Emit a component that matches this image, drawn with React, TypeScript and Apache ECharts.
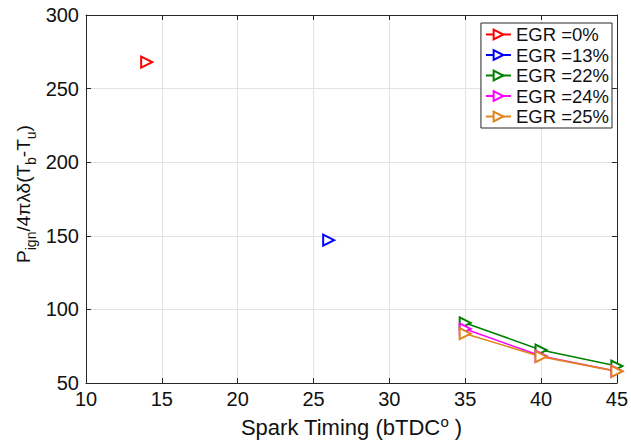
import React, { useEffect, useRef } from 'react';
import * as echarts from 'echarts';

const seriesNames = ['EGR =0%', 'EGR =13%', 'EGR =22%', 'EGR =24%', 'EGR =25%'];
const seriesColors = ['#ff0000', '#0000ff', '#008000', '#ff00ff', '#e0851c'];

const egr0X = [14];
const egr0Y = [268];
const egr13X = [26];
const egr13Y = [147];
const egr22X = [35, 40, 45];
const egr22Y = [90.8, 72.4, 61.5];
const egr24X = [35, 40, 45];
const egr24Y = [86.7, 68.3, 58.0];
const egr25X = [35, 40, 45];
const egr25Y = [83.5, 67.9, 57.9];

const xTicks = [10, 15, 20, 25, 30, 35, 40, 45];
const yTicks = [50, 100, 150, 200, 250, 300];

const seriesX = [egr0X, egr13X, egr22X, egr24X, egr25X];
const seriesY = [egr0Y, egr13Y, egr22Y, egr24Y, egr25Y];

const FONT = '"Liberation Sans", Arial, Helvetica, sans-serif';
const AXIS_COLOR = '#262626';
const GRID_COLOR = '#e3e3e3';

export default function App() {
  const ref = useRef<HTMLDivElement>(null);
  useEffect(() => {
    if (!ref.current) return;
    const chart = echarts.init(ref.current, null, { renderer: 'svg' });
    const xMin = xTicks[0];
    const xMax = xTicks[xTicks.length - 1];
    const yMin = yTicks[0];
    const yMax = yTicks[yTicks.length - 1];
    const common = {
      axisLine: { show: true, lineStyle: { color: AXIS_COLOR, width: 1 } },
      axisTick: { show: true, inside: true, length: 5, lineStyle: { color: AXIS_COLOR } },
    };
    chart.setOption({
      animation: false,
      backgroundColor: '#ffffff',
      textStyle: { fontFamily: FONT },
      grid: { left: 86, right: 11, top: 15, bottom: 63, containLabel: false },
      xAxis: [
        {
          type: 'value',
          min: xMin,
          max: xMax,
          interval: 5,
          position: 'bottom',
          ...common,
          axisLabel: { color: '#111', fontSize: 20, fontFamily: FONT, margin: 6 },
          splitLine: { show: true, lineStyle: { color: GRID_COLOR, width: 1 } },
          name: '{n|Spark Timing (bTDC}{sup|o}{n| )}',
          nameLocation: 'middle',
          nameGap: 31,
          nameTextStyle: {
            rich: {
              n: { fontSize: 22, fontFamily: FONT, color: '#111', lineHeight: 26 },
              sup: { fontSize: 15, fontFamily: FONT, color: '#111', lineHeight: 15, verticalAlign: 'top' },
            },
          },
        },
        {
          type: 'value',
          min: xMin,
          max: xMax,
          interval: 5,
          position: 'top',
          ...common,
          axisLabel: { show: false },
          splitLine: { show: false },
        },
      ],
      yAxis: [
        {
          type: 'value',
          min: yMin,
          max: yMax,
          interval: 50,
          position: 'left',
          ...common,
          axisLabel: { color: '#111', fontSize: 20, fontFamily: FONT, margin: 7 },
          splitLine: { show: true, lineStyle: { color: GRID_COLOR, width: 1 } },
        },
        {
          type: 'value',
          min: yMin,
          max: yMax,
          interval: 50,
          position: 'right',
          ...common,
          axisLabel: { show: false },
          splitLine: { show: false },
        },
      ],
      legend: {
        orient: 'vertical',
        right: 19,
        top: 23,
        backgroundColor: '#ffffff',
        borderColor: AXIS_COLOR,
        borderWidth: 1,
        borderRadius: 0,
        padding: [2, 3, 2, 4],
        itemWidth: 25,
        itemHeight: 12,
        itemGap: 1.5,
        textStyle: { fontSize: 18.5, fontFamily: FONT, color: '#111', lineHeight: 18 },
        data: seriesNames,
      },
      graphic: [
        {
          type: 'text',
          x: 23,
          y: 194,
          rotation: Math.PI / 2,
          style: {
            text: '{b|P}{s|ign}{b|/4πλδ(T}{s|b}{b|-T}{s|u}{b|)}',
            align: 'center',
            verticalAlign: 'middle',
            rich: {
              b: { fontSize: 19, fontFamily: FONT, fill: '#111', lineHeight: 30 },
              s: { fontSize: 14, fontFamily: FONT, fill: '#111', lineHeight: 14, verticalAlign: 'bottom' },
            },
          },
        },
      ],
      series: seriesNames.map((name, i) => ({
        name,
        type: 'line',
        xAxisIndex: 0,
        yAxisIndex: 0,
        data: seriesX[i].map((x, j) => [x, seriesY[i][j]]),
        symbol: 'emptyTriangle',
        symbolSize: 11,
        symbolRotate: -90,
        showSymbol: true,
        color: seriesColors[i],
        itemStyle: { color: seriesColors[i], borderWidth: 1.6 },
        lineStyle: { color: seriesColors[i], width: 1.6 },
      })),
    });
    return () => chart.dispose();
  }, []);
  return <div ref={ref} style={{ position: 'fixed', left: 0, top: 0, width: 631, height: 446, background: '#fff' }} />;
}
